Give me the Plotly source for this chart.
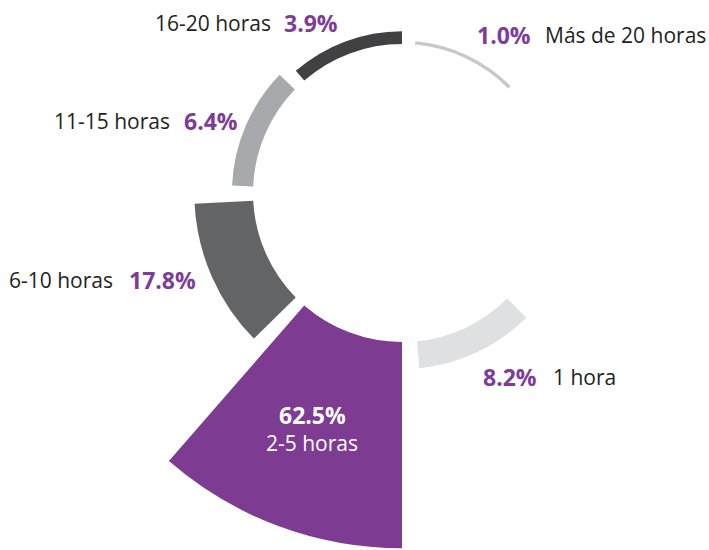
import plotly.graph_objects as go

# ---- data ----
categories = ["Más de 20 horas", "1 hora", "2-5 horas", "6-10 horas", "11-15 horas", "16-20 horas"]
values = [1.0, 8.2, 62.5, 17.8, 6.4, 3.9]
pct_labels = ["1.0%", "8.2%", "62.5%", "17.8%", "6.4%", "3.9%"]

# ---- layout / style ----
W, H = 709, 550
OFF = 0                    # page offset of the figure (body margin removed below)
CX, CY = 402 - OFF, 193 - OFF   # centre of the ring in figure pixels
PX_PER_UNIT = 3.3          # pixel length of one percentage point
INNER_PX = 149             # inner radius of the ring
R_TOP = 180                # radius of the upper (full circle) polar frame
R_LOW = 356.5              # radius of the lower (sector) polar frame
# angular extent of each segment, degrees clockwise from 12 o'clock
seg_start = [5.0, 135.0, 180.0, 225.5, 272.5, 319.0]
seg_end = [45.5, 174.3, 221.0, 267.0, 314.0, 360.0]
frame = ["polar", "polar2", "polar2", "polar2", "polar", "polar"]
colors = ["#c7c8ca", "#dfe0e1", "#7d3c92", "#636466", "#a7a9ac", "#414042"]
PURPLE = "#7d3c98"
DARK = "#231f20"
FONT = "Open Sans"

base = INNER_PX / PX_PER_UNIT

fig = go.Figure()
for sp in ["polar", "polar2"]:
    idx = [i for i, f in enumerate(frame) if f == sp]
    fig.add_trace(go.Barpolar(
        r=[values[i] for i in idx],
        theta=[(seg_start[i] + seg_end[i]) / 2 for i in idx],
        width=[seg_end[i] - seg_start[i] for i in idx],
        base=[base] * len(idx),
        marker=dict(color=[colors[i] for i in idx], line=dict(width=0)),
        hoverinfo="skip",
        showlegend=False,
        subplot=sp,
    ))

ang = dict(rotation=90, direction="clockwise", visible=False, thetaunit="degrees")
k = 0.70710678

def clamp(v):
    return min(1.0, max(0.0, v))

fig.update_layout(
    width=W, height=H,
    margin=dict(l=0, r=0, t=0, b=0),
    paper_bgcolor="white",
    plot_bgcolor="white",
    polar=dict(
        domain=dict(
            x=[clamp((CX - R_TOP) / W), clamp((CX + R_TOP) / W)],
            y=[clamp(1 - (CY + R_TOP) / H), clamp(1 - (CY - R_TOP) / H)],
        ),
        bgcolor="rgba(0,0,0,0)",
        radialaxis=dict(range=[0, R_TOP / PX_PER_UNIT], visible=False),
        angularaxis=ang,
    ),
    polar2=dict(
        sector=[180, 315],
        domain=dict(
            x=[clamp((CX - R_LOW) / W), clamp((CX + k * R_LOW) / W)],
            y=[clamp(1 - (CY + R_LOW) / H), clamp(1 - CY / H)],
        ),
        bgcolor="rgba(0,0,0,0)",
        radialaxis=dict(range=[0, R_LOW / PX_PER_UNIT], visible=False),
        angularaxis=ang,
    ),
)

def px(x):
    return (x - OFF) / W

def py(y):
    return 1 - (y - OFF) / H

FS = 21
FSB = 23

def ann(text, x, y, xanchor, color=DARK, bold=False):
    t = f"<b>{text}</b>" if bold else text
    fig.add_annotation(
        text=t, x=px(x), y=py(y), xref="paper", yref="paper",
        xanchor=xanchor, yanchor="middle", showarrow=False,
        borderpad=0, borderwidth=0,
        font=dict(family=FONT, size=FSB if bold else FS, color=color),
    )

# labels: category text and percent, on a shared centre line
ann(categories[5], 155, 23, "left")
ann(pct_labels[5], 338, 23, "right", PURPLE, True)

ann(pct_labels[0], 477, 35, "left", PURPLE, True)
ann(categories[0], 706, 35, "right")

ann(categories[4], 54, 121, "left")
ann(pct_labels[4], 238, 121, "right", PURPLE, True)

ann(categories[3], 9, 280, "left")
ann(pct_labels[3], 196, 280, "right", PURPLE, True)

ann(pct_labels[1], 483, 377, "left", PURPLE, True)
ann(categories[1], 616, 377, "right")

ann(pct_labels[2], 312, 415, "center", "white", True)
ann(categories[2], 312, 443, "center", "white")

fig.write_html(
    "out.html",
    config={"displayModeBar": False},
    post_script="document.body.style.margin='0';document.body.style.overflow='hidden';",
)
